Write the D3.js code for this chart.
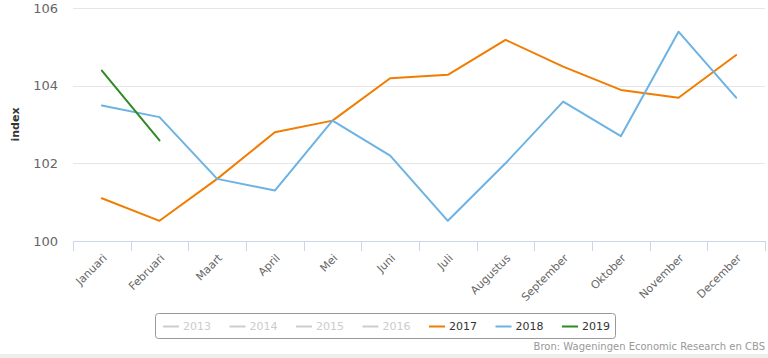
<!DOCTYPE html>
<html>
<head>
<meta charset="utf-8">
<script src="https://cdn.jsdelivr.net/npm/d3@7"></script>
<style>
  html, body { margin: 0; padding: 0; background: #fff; }
  svg { display: block; font-family: "DejaVu Sans", Verdana, sans-serif; }
</style>
</head>
<body>
<svg id="chart" width="768" height="358"></svg>
<script>
const months = ["Januari","Februari","Maart","April","Mei","Juni","Juli","Augustus","September","Oktober","November","December"];
const v2017 = [101.1, 100.52, 101.6, 102.8, 103.1, 104.19, 104.28, 105.18, 104.49, 103.89, 103.69, 104.79];
const v2018 = [103.49, 103.19, 101.6, 101.3, 103.1, 102.2, 100.52, 102.0, 103.59, 102.7, 105.39, 103.69];
const v2019 = [104.39, 102.59];
const yTicks = [100, 102, 104, 106];
const legendYears = ["2013","2014","2015","2016","2017","2018","2019"];
const legendColors = ["#cccccc","#cccccc","#cccccc","#cccccc","#f07d00","#6cb3e3","#2e8b22"];
const legendActive = [false,false,false,false,true,true,true];
const yLabel = "index";
const credits = "Bron: Wageningen Economic Research en CBS";

(function () {
const svg = d3.select("#chart");
const W = 768, H = 358;
const pLeft = 73, pRight = 765, pTop = 8, pBottom = 241;

svg.append("rect").attr("x",0).attr("y",354).attr("width",W).attr("height",H-354).attr("fill","#efeee9");

const x = d3.scaleBand().domain(months).range([pLeft, pRight]);
const y = d3.scaleLinear().domain([100, 106]).range([pBottom, pTop]);

// gridlines
svg.append("g").selectAll("line").data(yTicks.filter(t => t !== 100)).join("line")
  .attr("x1", pLeft).attr("x2", pRight)
  .attr("y1", d => Math.round(y(d))+0.5).attr("y2", d => Math.round(y(d))+0.5)
  .attr("stroke", "#e6e6e6").attr("stroke-width", 1);

// y axis labels
const yAxis = d3.axisLeft(y).tickValues(yTicks).tickSize(0).tickPadding(15).tickFormat(d3.format("d"));
const gy = svg.append("g").attr("transform", `translate(${pLeft},0)`).call(yAxis);
gy.select(".domain").remove();
gy.selectAll("text").attr("fill", "#666").attr("font-size", "13px").attr("font-family", "DejaVu Sans, Verdana, sans-serif");

// y title
svg.append("text").attr("transform", `translate(19,${(pTop+pBottom)/2}) rotate(-90)`)
  .attr("text-anchor","middle").attr("font-size","11px").attr("font-weight","bold").attr("fill","#333")
  .text(yLabel);

// x axis
const gx = svg.append("g").attr("transform", `translate(0,${pBottom})`);
gx.append("line").attr("x1", pLeft).attr("x2", pRight).attr("y1", 0.5).attr("y2", 0.5).attr("stroke", "#ccd6eb");
const tickPos = months.map(m => x(m)).concat([pRight]);
gx.selectAll("line.tk").data(tickPos).join("line").attr("class","tk")
  .attr("x1", d => Math.round(d)+0.5).attr("x2", d => Math.round(d)+0.5)
  .attr("y1", 0).attr("y2", 10).attr("stroke", "#ccd6eb");
gx.selectAll("text").data(months).join("text")
  .attr("transform", d => `translate(${x(d) + x.bandwidth()/2 + 3},${15}) rotate(-45)`)
  .attr("text-anchor","end").attr("font-size","11px").attr("fill","#666")
  .attr("dy","0.35em")
  .text(d => d);

// lines
const line = d3.line().x((d,i) => x(months[i]) + x.bandwidth()/2).y(d => y(d));
const series = [[v2017, "#f07d00"], [v2018, "#6cb3e3"], [v2019, "#2e8b22"]];
svg.append("g").selectAll("path").data(series).join("path")
  .attr("d", d => line(d[0])).attr("fill","none").attr("stroke", d => d[1])
  .attr("stroke-width", 2).attr("stroke-linejoin","round").attr("stroke-linecap","round");

// legend
const lg = svg.append("g");
lg.append("rect").attr("x",155.5).attr("y",313.5).attr("width",460).attr("height",25).attr("rx",3)
  .attr("fill","none").attr("stroke","#999");
const items = lg.selectAll("g").data(legendYears).join("g")
  .attr("transform", (d,i) => `translate(${163 + i*66.5},326)`);
items.append("line").attr("x1",0).attr("x2",16).attr("y1",0.5).attr("y2",0.5)
  .attr("stroke",(d,i)=>legendColors[i]).attr("stroke-width",2);
items.append("text").attr("x",20).attr("y",0).attr("dy","0.35em")
  .attr("font-size","11px").attr("fill",(d,i)=>legendActive[i] ? "#333" : "#cccccc")
  .text(d=>d);

// credits
svg.append("text").attr("x",765).attr("y",350).attr("text-anchor","end")
  .attr("font-size","10px").attr("fill","#999").text(credits);
})();
</script>
</body>
</html>
